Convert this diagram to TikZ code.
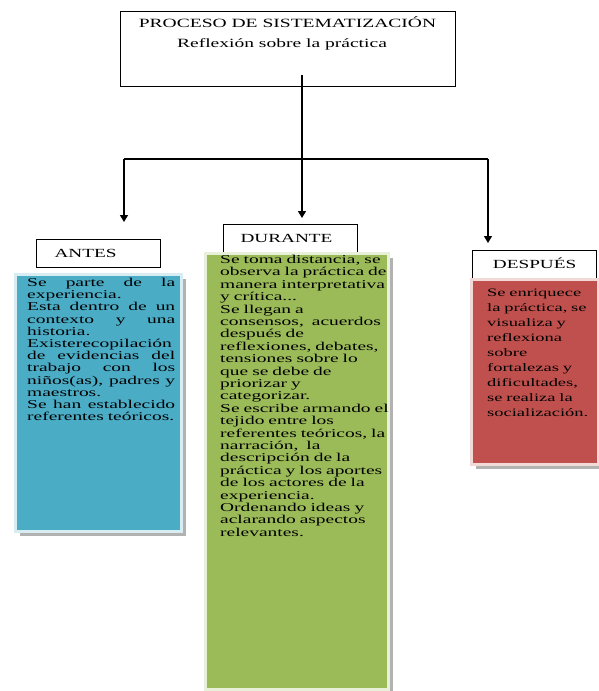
\documentclass[tikz,border=0pt]{standalone}
\usepackage{fontspec}
\setmainfont{Liberation Serif}[FakeStretch=1.55]
\newfontfamily\cuerpo{Liberation Serif}[FakeStretch=1.62]
\usetikzlibrary{arrows.meta,shadows}
\definecolor{azul}{HTML}{4BACC6}
\definecolor{verde}{HTML}{9BBB59}
\definecolor{rojo}{HTML}{C0504D}
\newcommand\renglon[1]{{\spaceskip=0pt\xspaceskip=0pt\makebox[148pt][s]{#1}}}
\tikzset{
  etiqueta/.style={draw, line width=1.2pt, anchor=north west, minimum height=28pt,
    text height=8.3pt, text depth=0pt, inner ysep=0pt, font=\fontsize{12.4}{13}\selectfont},
  caja/.style={fill=#1, draw=#1!22!white, line width=2.5pt, anchor=north west, inner sep=0pt,
    drop shadow={shadow xshift=5pt, shadow yshift=-5pt, fill=black!30, opacity=1}},
  texto/.style={anchor=north west, inner sep=0pt, align=left, font=\cuerpo\fontsize{12}{12.2}\selectfont},
  flecha/.style={-{Triangle[width=8pt,length=7pt]}}
}
\begin{document}
\begin{tikzpicture}[x=1pt, y=-1pt]
      \useasboundingbox (0,0) rectangle (599,691);
      \node[draw, line width=1.2pt, anchor=north west, minimum width=335pt, minimum height=75pt] (proceso) at (120,11) {};
      \node[anchor=base, font=\fontsize{12.6}{13}\selectfont] (titulo) at (287.5,27.5) {PROCESO DE SISTEMATIZACIÓN};
      \node[anchor=base, font=\fontsize{12.6}{13}\selectfont] (subtitulo) at (282,47) {Reflexión sobre la práctica};
      \node[etiqueta, text width=88pt, inner xsep=18pt, align=left] (antes) at (36,239) {ANTES};
      \node[etiqueta, text width=100pt, inner xsep=17pt, align=left] (durante) at (223,224) {DURANTE};
      \node[etiqueta, minimum width=124pt, align=center] (despues) at (472,250) {DESPUÉS};
      \coordinate (inicio) at (302,75);
      \coordinate (izq) at (124,159);
      \coordinate (der) at (488,159);
      \begin{scope}[line width=1.2pt]
        \draw[flecha, shorten >=6pt] (inicio) to (inicio |- durante.north);
        \draw (izq) to (der);
        \draw[flecha, shorten >=17pt] (izq) to (izq |- antes.north);
        \draw[flecha, shorten >=7pt] (der) to (der |- despues.north);
      \end{scope}
      \node[caja=azul, minimum width=166pt, minimum height=257pt] (cajaantes) at (14,273) {};
      \node[caja=verde, minimum width=183pt, minimum height=436pt] (cajadurante) at (204,252) {};
      \node[caja=rojo, minimum width=127pt, minimum height=185pt] (cajadespues) at (470,278) {};
      \node[texto, text width=170pt] (txtantes) at (27,278) {\renglon{Se parte de la}\\ experiencia.\\
        \renglon{Esta dentro de un}\\ \renglon{contexto y una}\\ historia.\\ Existerecopilación\\
        \renglon{de evidencias del}\\ \renglon{trabajo con los}\\ \renglon{niños(as), padres y}\\ maestros.\\
        \renglon{Se han establecido}\\ referentes teóricos.};
      \node[texto, text width=200pt, font=\cuerpo\fontsize{12}{12.4}\selectfont] (txtdurante) at (220,255) {Se toma distancia, se\\ observa la práctica de\\
        manera interpretativa\\ y crítica...\\ Se llegan a\\ consensos, \ acuerdos\\ después de\\
        reflexiones, debates,\\ tensiones sobre lo\\ que se debe de\\ priorizar y\\ categorizar.\\
        Se escribe armando el\\ tejido entre los\\ referentes teóricos, la\\ narración, \ la\\
        descripción de la\\ práctica y los aportes\\ de los actores de la\\ experiencia.\\
        Ordenando ideas y\\ aclarando aspectos\\ relevantes.};
      \node[texto, text width=120pt, font=\cuerpo\fontsize{11.4}{15}\selectfont] (txtdespues) at (487,289) {Se enriquece\\
        la práctica, se\\ visualiza y\\ reflexiona\\ sobre\\ fortalezas y\\ dificultades,\\ se realiza la\\ socialización.};
    \end{tikzpicture}
\end{document}
